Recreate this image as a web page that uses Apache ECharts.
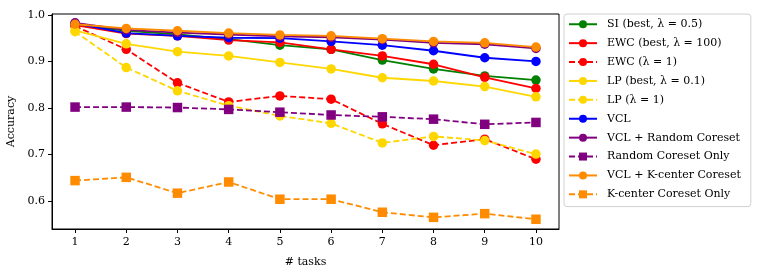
<!DOCTYPE html>
<html><head><meta charset="utf-8">
<script src="https://cdn.jsdelivr.net/npm/echarts@6/dist/echarts.min.js"></script>
<style>html,body{margin:0;padding:0;background:#fff}#c{width:761px;height:276px}</style>
</head><body><div id="c"></div>
<script>
const tasks = [1,2,3,4,5,6,7,8,9,10];
const yTicks = [0.6,0.7,0.8,0.9,1.0];
const siBest = [0.980,0.966,0.958,0.948,0.935,0.926,0.903,0.884,0.869,0.860];
const ewcBest = [0.978,0.960,0.955,0.946,0.941,0.926,0.912,0.894,0.866,0.842];
const ewc1 = [0.976,0.926,0.854,0.813,0.826,0.819,0.766,0.720,0.733,0.690];
const lpBest = [0.967,0.938,0.921,0.912,0.898,0.884,0.865,0.858,0.846,0.824];
const lp1 = [0.964,0.887,0.837,0.805,0.783,0.767,0.725,0.739,0.730,0.701];
const vcl = [0.982,0.961,0.955,0.951,0.950,0.943,0.935,0.923,0.908,0.900];
const vclRandom = [0.983,0.968,0.962,0.958,0.954,0.952,0.947,0.940,0.937,0.928];
const randomOnly = [0.802,0.802,0.801,0.797,0.791,0.785,0.781,0.776,0.765,0.769];
const vclKcenter = [0.980,0.971,0.966,0.961,0.957,0.955,0.949,0.943,0.940,0.931];
const kcenterOnly = [0.644,0.651,0.617,0.641,0.604,0.604,0.576,0.565,0.573,0.561];

const defs = [
  ['SI (best, λ = 0.5)', siBest, '#008000', 'solid', 'circle'],
  ['EWC (best, λ = 100)', ewcBest, '#ff0000', 'solid', 'circle'],
  ['EWC (λ = 1)', ewc1, '#ff0000', 'dashed', 'circle'],
  ['LP (best, λ = 0.1)', lpBest, '#ffd700', 'solid', 'circle'],
  ['LP (λ = 1)', lp1, '#ffd700', 'dashed', 'circle'],
  ['VCL', vcl, '#0000ff', 'solid', 'circle'],
  ['VCL + Random Coreset', vclRandom, '#800080', 'solid', 'circle'],
  ['Random Coreset Only', randomOnly, '#800080', 'dashed', 'rect'],
  ['VCL + K-center Coreset', vclKcenter, '#ff8c00', 'solid', 'circle'],
  ['K-center Coreset Only', kcenterOnly, '#ff8c00', 'dashed', 'rect']
];
const FONT = 'DejaVu Serif';
const series = defs.map(([name, vals, color, dash, sym]) => ({
  name, type: 'line',
  data: tasks.map((t, i) => [t, vals[i]]),
  symbol: sym, symbolSize: 9.5, showSymbol: true,
  lineStyle: {color, width: 1.8, type: dash === 'dashed' ? [6, 3] : 'solid'},
  itemStyle: {color, borderColor: color, borderWidth: 0, opacity: 1},
  emphasis: {disabled: true},
  animation: false
}));

const chart = echarts.init(document.getElementById('c'), null, {renderer: 'canvas'});
chart.setOption({
  animation: false,
  textStyle: {fontFamily: FONT},
  grid: {left: 52, right: 202, top: 14, bottom: 47, show: true, borderColor: '#000', borderWidth: 1, backgroundColor: 'transparent', containLabel: false, outerBoundsMode: 'none'},
  xAxis: {
    type: 'value', min: 0.55, max: 10.45,
    name: '# tasks', nameLocation: 'middle', nameGap: 28,
    nameTextStyle: {fontFamily: FONT, fontSize: 11, color: '#000'},
    axisLine: {show: true, lineStyle: {color: '#000', width: 1}},
    axisTick: {show: true, customValues: tasks, length: 4, lineStyle: {color: '#000'}},
    axisLabel: {customValues: tasks, fontFamily: FONT, fontSize: 11, color: '#000', margin: 8},
    splitLine: {show: false}
  },
  yAxis: {
    type: 'value', min: 0.54, max: 1.002,
    name: 'Accuracy', nameLocation: 'middle', nameGap: 33, nameRotate: 90,
    nameTextStyle: {fontFamily: FONT, fontSize: 11, color: '#000'},
    axisLine: {show: true, lineStyle: {color: '#000', width: 1}},
    axisTick: {show: true, customValues: yTicks, length: 4, lineStyle: {color: '#000'}},
    axisLabel: {customValues: yTicks, fontFamily: FONT, fontSize: 11, color: '#000', margin: 7, formatter: v => v.toFixed(1)},
    splitLine: {show: false}
  },
  legend: {
    orient: 'vertical', left: 564, top: 14,
    padding: [4, 10, 6, 4],
    itemWidth: 28, itemHeight: 10, itemGap: 6.4,
    borderColor: '#d0d0d0', borderWidth: 1, borderRadius: 3,
    backgroundColor: '#fff',
    textStyle: {fontFamily: FONT, fontSize: 11, color: '#000', padding: [0, 0, 0, 5], lineHeight: 12.5},
    data: defs.map(d => d[0])
  },
  series
});
</script></body></html>
